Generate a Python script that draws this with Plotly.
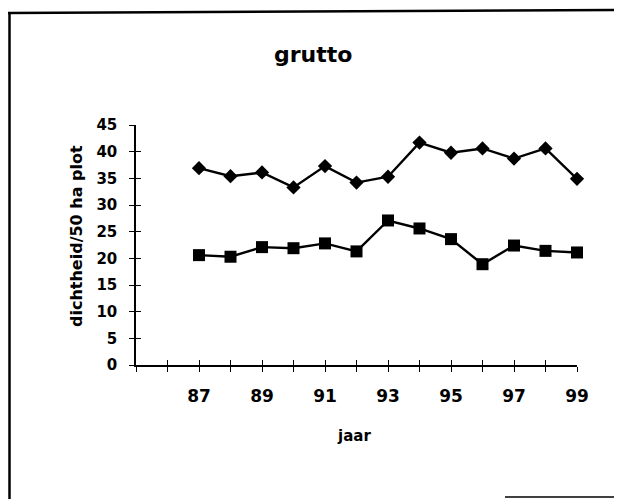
import plotly.graph_objects as go

years = [87, 88, 89, 90, 91, 92, 93, 94, 95, 96, 97, 98, 99]
series_diamond = [36.9, 35.4, 36.1, 33.3, 37.3, 34.2, 35.3, 41.7, 39.8, 40.6, 38.7, 40.6, 34.9]
series_square = [20.6, 20.3, 22.1, 21.9, 22.8, 21.3, 27.1, 25.6, 23.6, 18.9, 22.4, 21.4, 21.1]

x_tick_vals = list(range(85, 100))
x_tick_text = [str(v) if (v % 2 == 1 and v >= 87) else "" for v in x_tick_vals]
y_tick_vals = [0, 5, 10, 15, 20, 25, 30, 35, 40, 45]

OFF = 8  # page body margin
W, H = 622 - OFF, 499 - OFF
L, T = 136 - OFF, 125 - OFF
PW, PH = 441, 240
R, B = W - L - PW, H - T - PH

def px(xp):
    return (xp - OFF - L) / PW

def py(yp):
    return (T + PH - (yp - OFF)) / PH

FONT = "DejaVu Sans"

fig = go.Figure()
fig.add_trace(go.Scatter(
    x=years, y=series_diamond, mode="lines+markers",
    line=dict(color="black", width=2.4),
    marker=dict(symbol="diamond", size=11, color="black"),
    cliponaxis=False, showlegend=False))
fig.add_trace(go.Scatter(
    x=years, y=series_square, mode="lines+markers",
    line=dict(color="black", width=2.4),
    marker=dict(symbol="square", size=12, color="black"),
    cliponaxis=False, showlegend=False))
# invisible trace hosting the inside-tick overlay axes
fig.add_trace(go.Scatter(x=[years[0]], y=[series_square[0]], xaxis="x2", yaxis="y2",
                         mode="markers", marker=dict(opacity=0), showlegend=False,
                         hoverinfo="skip"))

tick_common = dict(showgrid=False, zeroline=False, tickwidth=1.3, ticklen=5, tickcolor="black")

fig.update_layout(
    width=W, height=H,
    margin=dict(l=L, r=R, t=T, b=B),
    paper_bgcolor="white", plot_bgcolor="rgba(0,0,0,0)",
    font=dict(family=FONT, color="black"),
    xaxis=dict(range=[85, 99], tickmode="array", tickvals=x_tick_vals, ticktext=x_tick_text,
               ticks="outside", showline=True, linecolor="black", linewidth=1.5,
               tickfont=dict(family=FONT, size=17, color="black", weight="bold"),
               ticklabelstandoff=10, **tick_common),
    yaxis=dict(range=[0, 45], tickmode="array", tickvals=y_tick_vals,
               ticks="outside", showline=True, linecolor="black", linewidth=1.5,
               tickfont=dict(family=FONT, size=15, color="black", weight="bold"),
               ticklabelstandoff=9, **tick_common),
    xaxis2=dict(range=[85, 99], overlaying="x", anchor="y2", side="bottom",
                tickmode="array", tickvals=x_tick_vals, ticks="inside",
                showticklabels=False, showline=False, **tick_common),
    yaxis2=dict(range=[0, 45], overlaying="y", anchor="x2", side="left",
                tickmode="array", tickvals=y_tick_vals, ticks="inside",
                showticklabels=False, showline=False, **tick_common),
)

fig.add_annotation(text="<b>grutto</b>", xref="paper", yref="paper",
                   x=px(313), y=py(55), xanchor="center", yanchor="middle",
                   showarrow=False, font=dict(family=FONT, size=22, color="black"))
fig.add_annotation(text="<b>dichtheid/50 ha plot</b>", xref="paper", yref="paper",
                   x=px(76), y=py(236), xanchor="center", yanchor="middle", textangle=-90,
                   showarrow=False, font=dict(family=FONT, size=16, color="black"))
fig.add_annotation(text="<b>jaar</b>", xref="paper", yref="paper",
                   x=px(354), y=py(436), xanchor="center", yanchor="middle",
                   showarrow=False, font=dict(family=FONT, size=15, color="black"))

# frame lines of the scanned page
border = dict(color="black", width=2.5)
fig.add_shape(type="line", xref="paper", yref="paper", x0=px(9.5), x1=px(9.5), y0=py(12), y1=py(505), line=border)
fig.add_shape(type="line", xref="paper", yref="paper", x0=px(8), x1=px(630), y0=py(13), y1=py(10), line=border)
fig.add_shape(type="line", xref="paper", yref="paper", x0=px(505), x1=px(630), y0=py(497), y1=py(497), line=dict(color="black", width=1.5))

fig.write_html("out.html")
